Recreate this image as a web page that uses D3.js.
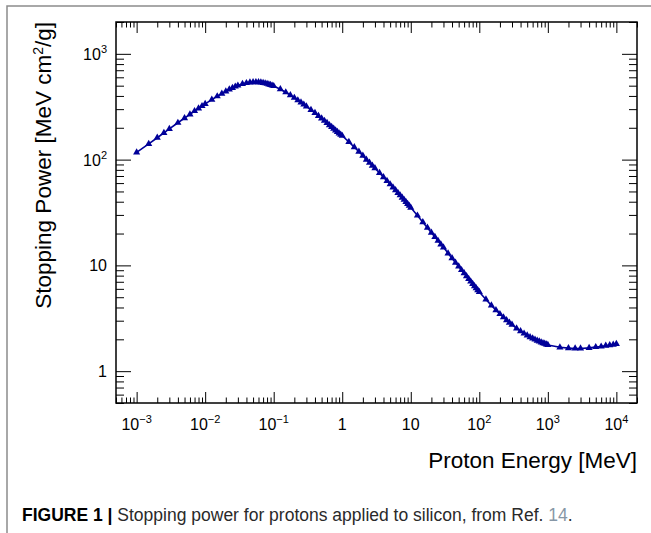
<!DOCTYPE html>
<html>
<head>
<meta charset="utf-8">
<script src="https://cdn.jsdelivr.net/npm/d3@7"></script>
<style>
    body { margin: 0; background: #fff; }
    svg text { font-family: "Liberation Sans", Arial, Helvetica, sans-serif; }
</style>
</head>
<body>
<div id="canvas"></div>
<script>
// proton energy grid [MeV]
var energies = [
    0.001, 0.0015, 0.002, 0.0025, 0.003, 0.004, 0.005, 0.006, 0.007, 0.008, 0.009,
    0.01, 0.0125, 0.015, 0.0175, 0.02, 0.0225, 0.025, 0.0275, 0.03, 0.035, 0.04, 0.045,
    0.05, 0.055, 0.06, 0.065, 0.07, 0.075, 0.08, 0.085, 0.09, 0.095,
    0.1, 0.125, 0.15, 0.175, 0.2, 0.225, 0.25, 0.275, 0.3, 0.35, 0.4, 0.45,
    0.5, 0.55, 0.6, 0.65, 0.7, 0.75, 0.8, 0.85, 0.9, 0.95,
    1, 1.25, 1.5, 1.75, 2, 2.25, 2.5, 2.75, 3, 3.5, 4, 4.5,
    5, 5.5, 6, 6.5, 7, 7.5, 8, 8.5, 9, 9.5,
    10, 12.5, 15, 17.5, 20, 22.5, 25, 27.5, 30, 35, 40, 45,
    50, 55, 60, 65, 70, 75, 80, 85, 90, 95,
    100, 125, 150, 175, 200, 225, 250, 275, 300, 350, 400, 450,
    500, 550, 600, 650, 700, 750, 800, 850, 900, 950,
    1000, 1500, 2000, 2500, 3000, 4000, 5000, 6000, 7000, 8000, 9000, 10000
];

// total stopping power [MeV cm2/g]
var stoppingPower = [
    117, 141, 161, 179, 195, 223, 247, 268, 288, 305, 321,
    336, 369, 397, 421, 442, 461, 477, 491, 502, 519, 530, 536,
    539, 540, 539, 536, 532, 527, 521, 515, 509, 502,
    496, 463, 433, 407, 384, 364, 347, 332, 318, 295, 276, 259,
    245, 233, 222, 212, 204, 196, 189, 183, 177, 172,
    168, 147, 131, 119, 109, 100, 93.5, 87.8, 82.9, 74.8, 68.3, 63.0,
    58.5, 54.7, 51.4, 48.5, 46.0, 43.7, 41.7, 39.8, 38.2, 36.6,
    35.2, 29.6, 25.6, 22.7, 20.4, 18.6, 17.1, 15.8, 14.8, 13.0, 11.7, 10.6,
    9.77, 9.04, 8.43, 7.90, 7.44, 7.04, 6.69, 6.37, 6.09, 5.84,
    5.61, 4.76, 4.19, 3.78, 3.47, 3.23, 3.04, 2.88, 2.75, 2.54, 2.39, 2.27,
    2.18, 2.10, 2.04, 1.99, 1.94, 1.91, 1.87, 1.84, 1.82, 1.79,
    1.77, 1.68, 1.65, 1.64, 1.64, 1.66, 1.69, 1.71, 1.74, 1.76, 1.78, 1.81
];

// axis ticks and labels
var xMajorTicks = [1e-3, 1e-2, 1e-1, 1, 10, 1e2, 1e3, 1e4];
var xLabelBase = ["10", "10", "10", "1", "10", "10", "10", "10"];
var xLabelExp = ["\u22123", "\u22122", "\u22121", "", "", "2", "3", "4"];
var yMajorTicks = [1, 10, 100, 1000];
var yLabelBase = ["1", "10", "10", "10"];
var yLabelExp = ["", "", "2", "3"];

var xTitle = "Proton Energy [MeV]";
var yTitle = "Stopping Power [MeV cm";
var captionBold = "FIGURE 1 |";
var captionText = " Stopping power for protons applied to silicon, from Ref. ";
var captionRef = "14";

drawGraph();

function minorTicks(lo, hi) {
    // 2..9 x 10^n inside the axis range
    var out = [];
    for (var n = -5; n <= 5; n++) {
        for (var k = 2; k <= 9; k++) {
            var v = k * Math.pow(10, n);
            if (v >= lo * 0.999 && v <= hi * 1.001) out.push(v);
        }
    }
    return out;
}

function drawGraph() {
    var W = 651, H = 533;
    var frame = {left: 116, right: 637, top: 22, bottom: 403};

    var svg = d3.select("#canvas")
                .append("svg")
                    .attr("width", W)
                    .attr("height", H);

    // outer page border (top and left only)
    svg.append("path")
        .attr("d", "M7," + H + "V6H" + W)
        .attr("fill", "none")
        .attr("stroke", "#8c8c8c")
        .attr("stroke-width", 1.5);

    var xScale = d3.scaleLog()
                .domain([5e-4, 2e4])
                .range([frame.left, frame.right]);

    var yScale = d3.scaleLog()
                .domain([0.5, 2000])
                .range([frame.bottom, frame.top]);

    var xMinor = minorTicks(5e-4, 2e4);
    var yMinor = minorTicks(0.5, 2000);

    // ticks on all four sides, pointing inward
    function tickAxis(axisFn, scale, values, size, transform) {
        var g = svg.append("g")
            .attr("transform", transform)
            .call(axisFn(scale).tickValues(values).tickSize(-size).tickSizeOuter(0).tickFormat(""));
        g.select(".domain").remove();
        g.selectAll("line").attr("stroke", "#000").attr("stroke-width", 1);
    }
    tickAxis(d3.axisBottom, xScale, xMinor, 5.5, "translate(0," + frame.bottom + ")");
    tickAxis(d3.axisBottom, xScale, xMajorTicks, 11, "translate(0," + frame.bottom + ")");
    tickAxis(d3.axisTop, xScale, xMinor, 5.5, "translate(0," + frame.top + ")");
    tickAxis(d3.axisTop, xScale, xMajorTicks, 11, "translate(0," + frame.top + ")");
    tickAxis(d3.axisLeft, yScale, yMinor, 8, "translate(" + frame.left + ",0)");
    tickAxis(d3.axisLeft, yScale, yMajorTicks, 15, "translate(" + frame.left + ",0)");
    tickAxis(d3.axisRight, yScale, yMinor, 8, "translate(" + frame.right + ",0)");
    tickAxis(d3.axisRight, yScale, yMajorTicks, 15, "translate(" + frame.right + ",0)");

    // frame
    svg.append("rect")
        .attr("x", frame.left)
        .attr("y", frame.top)
        .attr("width", frame.right - frame.left)
        .attr("height", frame.bottom - frame.top)
        .attr("fill", "none")
        .attr("stroke", "#000")
        .attr("stroke-width", 1.5);

    // x tick labels with superscripts
    xMajorTicks.forEach(function(v, i) {
        var t = svg.append("text")
            .attr("x", xScale(v))
            .attr("y", 430)
            .attr("text-anchor", "middle")
            .attr("font-size", "16px")
            .attr("fill", "#000");
        t.append("tspan").text(xLabelBase[i]);
        if (xLabelExp[i] !== "") {
            t.append("tspan").attr("dy", -7).attr("font-size", "11px").text(xLabelExp[i]);
        }
    });

    // y tick labels
    yMajorTicks.forEach(function(v, i) {
        var t = svg.append("text")
            .attr("x", 107)
            .attr("y", yScale(v) + 6)
            .attr("text-anchor", "end")
            .attr("font-size", "16px")
            .attr("fill", "#000");
        t.append("tspan").text(yLabelBase[i]);
        if (yLabelExp[i] !== "") {
            t.append("tspan").attr("dy", -7).attr("font-size", "11px").text(yLabelExp[i]);
        }
    });

    // axis titles
    svg.append("text")
        .attr("x", frame.right)
        .attr("y", 468)
        .attr("text-anchor", "end")
        .attr("font-size", "22.5px")
        .text(xTitle);

    var yt = svg.append("text")
        .attr("transform", "translate(51," + frame.top + ") rotate(-90)")
        .attr("text-anchor", "end")
        .attr("font-size", "22.5px");
    yt.append("tspan").text(yTitle);
    yt.append("tspan").attr("dy", -8).attr("font-size", "14px").text("2");
    yt.append("tspan").attr("dy", 8).text("/g]");

    // data line + triangle markers
    var pts = energies.map(function(e, i) { return [e, stoppingPower[i]]; });
    var line = d3.line()
        .x(function(d) { return xScale(d[0]); })
        .y(function(d) { return yScale(d[1]); });

    svg.append("path")
        .datum(pts)
        .attr("d", line)
        .attr("fill", "none")
        .attr("stroke", "#000099")
        .attr("stroke-width", 1.6);

    svg.selectAll(".marker")
        .data(pts)
        .enter().append("path")
        .attr("class", "marker")
        .attr("d", d3.symbol().type(d3.symbolTriangle).size(22))
        .attr("transform", function(d) { return "translate(" + xScale(d[0]) + "," + yScale(d[1]) + ")"; })
        .attr("fill", "#000099");

    // caption
    var cap = svg.append("text")
        .attr("x", 22)
        .attr("y", 521)
        .attr("font-size", "17.5px")
        .attr("fill", "#2a2a2a");
    cap.append("tspan").attr("font-weight", "bold").attr("fill", "#000").text(captionBold);
    cap.append("tspan").text(captionText);
    cap.append("tspan").attr("fill", "#8797a6").text(captionRef);
    cap.append("tspan").text(".");
}
</script>
</body>
</html>
